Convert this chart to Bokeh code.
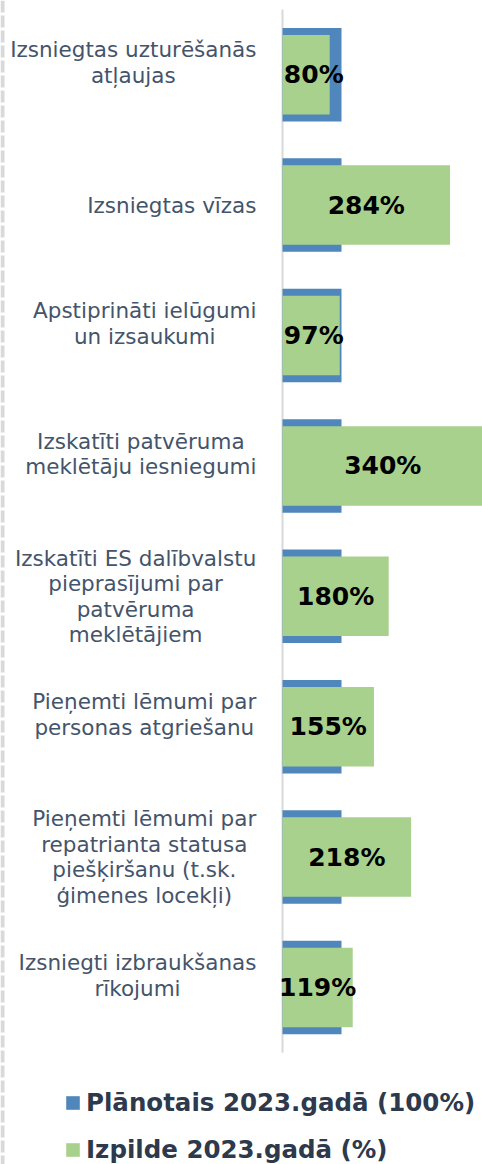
import unicodedata
from bokeh.plotting import figure
from bokeh.models import Range1d, ColumnDataSource, Legend, LegendItem
from bokeh.core.properties import value
from bokeh.embed import file_html
from bokeh.resources import INLINE

# ---- data ----
categories = [
    "Izsniegtas uzturēšanās\natļaujas",
    "Izsniegtas vīzas",
    "Apstiprināti ielūgumi\nun izsaukumi",
    "Izskatīti patvēruma\nmeklētāju iesniegumi",
    "Izskatīti ES dalībvalstu\npieprasījumi par\npatvēruma\nmeklētājiem",
    "Pieņemti lēmumi par\npersonas atgriešanu",
    "Pieņemti lēmumi par\nrepatrianta statusa\npiešķiršanu (t.sk.\nģimenes locekļi)",
    "Izsniegti izbraukšanas\nrīkojumi",
]
planned = [100, 100, 100, 100, 100, 100, 100, 100]
actual = [80, 284, 97, 340, 180, 155, 218, 119]
series_names = ["Plānotais 2023.gadā (100%)", "Izpilde 2023.gadā (%)"]

# ---- style / layout ----
BLUE = "#4f86bb"
GREEN = "#a9d18e"
CAT_COLOR = "#44546a"
LEG_COLOR = "#2d394c"
FONT = "DejaVu Sans"
W, H = 482, 1164
ZERO_PX = 282          # frame px of the 0 % line
PX_PER_PCT = 0.59      # 100 % = 59 px
SLOT = 130.4           # px per category
TOP = 9
CAT_FS = 21.5

# approximate DejaVu Sans advance widths (1/1000 em) to centre wrapped labels
_WID = dict(a=613, b=635, c=550, d=635, e=615, f=352, g=635, h=634, i=278, j=278,
            k=579, l=278, m=974, n=634, o=612, p=635, q=635, r=411, s=521, t=392,
            u=634, v=592, w=818, x=592, y=592, z=525, A=684, E=632, I=295, P=603,
            S=635)
_WID.update({" ": 318, "(": 390, ")": 390, ".": 318})


def text_width(s, fs):
    tot = 0
    for ch in s:
        base = unicodedata.normalize("NFD", ch)[0]
        tot += _WID.get(base, 600)
    return tot * fs / 1000.0


n = len(categories)
ypos = [i + 0.5 for i in range(n)]
lab_w = [max(text_width(line, CAT_FS) for line in c.split("\n")) for c in categories]
lab_xoff = [-(26 + w / 2) for w in lab_w]
lab_yoff = [-12 if c.count("\n") == 1 else 0 for c in categories]
val_text = [f"{v}%" for v in actual]
val_x = [max(v / 2, 53) for v in actual]

src = ColumnDataSource(dict(y=ypos, cat=categories, planned=planned, actual=actual,
                            xoff=lab_xoff, yoff=lab_yoff, vt=val_text, vx=val_x))

y_top, y_bot = -TOP / SLOT, (H - TOP) / SLOT
p = figure(width=W, height=H, output_backend="svg", toolbar_location=None,
           x_range=Range1d(-ZERO_PX / PX_PER_PCT, (W - ZERO_PX) / PX_PER_PCT),
           y_range=Range1d(y_bot, y_top),
           x_axis_type=None, y_axis_type=None, min_border=0)
p.outline_line_color = None
p.background_fill_color = "white"
p.border_fill_color = "white"

# dashed page border on the left
edge_x = (2 - ZERO_PX) / PX_PER_PCT
p.segment(x0=edge_x, y0=y_top, x1=edge_x, y1=y_bot, line_color="#d9d9d9",
          line_width=4, line_dash="12 3")

# category axis line
p.segment(x0=0, y0=0, x1=0, y1=n, line_color="#d9d9d9", line_width=2)

r_plan = p.hbar(y="y", left=0, right="planned", height=0.717, source=src,
                fill_color=BLUE, line_color=None)
r_act = p.hbar(y="y", left=0, right="actual", height=0.61, source=src,
               fill_color=GREEN, line_color=None)

p.text(x="vx", y="y", text="vt", source=src, text_align="center",
       text_baseline="middle", text_font=value(FONT), text_font_style="bold",
       text_font_size="25px", text_color="black")

p.text(x=0, y="y", x_offset="xoff", y_offset="yoff", text="cat", source=src,
       text_align="center", text_baseline="middle", text_font=value(FONT),
       text_font_size=f"{CAT_FS}px", text_color=CAT_COLOR, text_line_height=1.02)

legend = Legend(items=[LegendItem(label=series_names[0], renderers=[r_plan]),
                       LegendItem(label=series_names[1], renderers=[r_act])],
                location=(64, 0), orientation="vertical", padding=0, margin=0,
                spacing=18, glyph_width=17, glyph_height=17, label_standoff=5,
                label_text_font=FONT, label_text_font_size="24.5px",
                label_text_font_style="bold", label_text_color=LEG_COLOR,
                border_line_color=None, background_fill_alpha=0)
p.add_layout(legend)

open("out.html", "w").write(file_html(p, INLINE))
